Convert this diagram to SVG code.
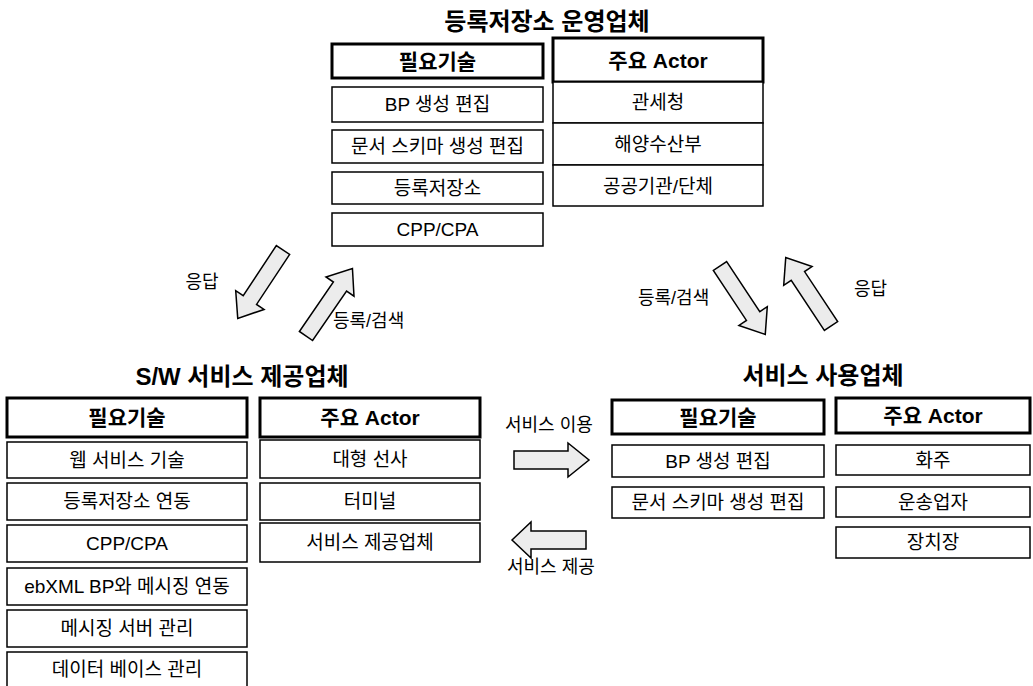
<svg xmlns="http://www.w3.org/2000/svg" width="1033" height="686" viewBox="0 0 1033 686">
<style>
.bg{fill:#fff}
.box{fill:#fff;stroke:#000;stroke-width:1.5}
.hdr{fill:#fff;stroke:#000;stroke-width:3}
.t{font-family:"Liberation Sans","Noto Sans CJK KR",sans-serif;font-size:19px;fill:#000;text-anchor:middle;dominant-baseline:central}
.h{font-family:"Liberation Sans","Noto Sans CJK KR",sans-serif;font-size:21px;font-weight:700;fill:#000;text-anchor:middle;dominant-baseline:central}
.ttl{font-family:"Liberation Sans","Noto Sans CJK KR",sans-serif;font-size:24px;font-weight:700;fill:#000;text-anchor:middle;dominant-baseline:central}
.lbl{font-family:"Liberation Sans","Noto Sans CJK KR",sans-serif;font-size:18px;fill:#000;dominant-baseline:central}
.arr{fill:#ececec;stroke:#000;stroke-width:1.5;stroke-linejoin:miter}
</style>
<defs>
<polygon id="blk" points="0,-8 60,-8 60,-17 82,0 60,17 60,8 0,8"/>
</defs>
<rect class="bg" x="0" y="0" width="1033" height="686"/>

<g id="registry-operator">
<text class="ttl" x="547" y="21">등록저장소 운영업체</text>
<g id="ro-tech-header"><rect class="hdr" x="332" y="44" width="211" height="34"/><text class="h" x="437.5" y="61">필요기술</text></g>
<g id="ro-tech-1"><rect class="box" x="332" y="87" width="211" height="35"/><text class="t" x="437.5" y="104.5">BP 생성 편집</text></g>
<g id="ro-tech-2"><rect class="box" x="332" y="130" width="211" height="33"/><text class="t" x="437.5" y="146.5">문서 스키마 생성 편집</text></g>
<g id="ro-tech-3"><rect class="box" x="332" y="172" width="211" height="32"/><text class="t" x="437.5" y="188">등록저장소</text></g>
<g id="ro-tech-4"><rect class="box" x="332" y="213" width="211" height="33"/><text class="t" x="437.5" y="229.5">CPP/CPA</text></g>
<g id="ro-actor-header"><rect class="hdr" x="553" y="38" width="210" height="44"/><text class="h" x="658" y="60">주요 Actor</text></g>
<g id="ro-actor-1"><rect class="box" x="553" y="82" width="210" height="41"/><text class="t" x="658" y="102.5">관세청</text></g>
<g id="ro-actor-2"><rect class="box" x="553" y="123" width="210" height="42"/><line x1="553" y1="167.5" x2="763" y2="167.5" stroke="#000" stroke-width="1"/><text class="t" x="658" y="144">해양수산부</text></g>
<g id="ro-actor-3"><rect class="box" x="553" y="165" width="210" height="41"/><text class="t" x="658" y="186">공공기관/단체</text></g>
</g>

<g id="sw-provider">
<text class="ttl" x="242" y="376">S/W 서비스 제공업체</text>
<g id="sp-tech-header"><rect class="hdr" x="7" y="398" width="240" height="39"/><text class="h" x="127" y="417.5">필요기술</text></g>
<g id="sp-tech-1"><rect class="box" x="7" y="442" width="240" height="36"/><text class="t" x="127" y="460">웹 서비스 기술</text></g>
<g id="sp-tech-2"><rect class="box" x="7" y="483" width="240" height="37"/><text class="t" x="127" y="501.5">등록저장소 연동</text></g>
<g id="sp-tech-3"><rect class="box" x="7" y="525" width="240" height="37"/><text class="t" x="127" y="543.5">CPP/CPA</text></g>
<g id="sp-tech-4"><rect class="box" x="7" y="568" width="240" height="37"/><text class="t" x="127" y="586.5">ebXML BP와 메시징 연동</text></g>
<g id="sp-tech-5"><rect class="box" x="7" y="610" width="240" height="37"/><text class="t" x="127" y="628.5">메시징 서버 관리</text></g>
<g id="sp-tech-6"><rect class="box" x="7" y="652" width="240" height="40"/><text class="t" x="127" y="669">데이터 베이스 관리</text></g>
<g id="sp-actor-header"><rect class="hdr" x="260" y="398" width="220" height="39"/><text class="h" x="370" y="417.5">주요 Actor</text></g>
<g id="sp-actor-1"><rect class="box" x="260" y="440" width="220" height="38"/><text class="t" x="370" y="459">대형 선사</text></g>
<g id="sp-actor-2"><rect class="box" x="260" y="483" width="220" height="37"/><text class="t" x="370" y="501.5">터미널</text></g>
<g id="sp-actor-3"><rect class="box" x="260" y="523" width="220" height="39"/><text class="t" x="370" y="542.5">서비스 제공업체</text></g>
</g>

<g id="service-user">
<text class="ttl" x="823" y="375">서비스 사용업체</text>
<g id="su-tech-header"><rect class="hdr" x="612" y="400" width="212" height="34"/><text class="h" x="718" y="417">필요기술</text></g>
<g id="su-tech-1"><rect class="box" x="612" y="445" width="212" height="32"/><text class="t" x="718" y="461">BP 생성 편집</text></g>
<g id="su-tech-2"><rect class="box" x="612" y="487" width="212" height="31"/><text class="t" x="718" y="502.5">문서 스키마 생성 편집</text></g>
<g id="su-actor-header"><rect class="hdr" x="836" y="398" width="194" height="35"/><text class="h" x="933" y="415.5">주요 Actor</text></g>
<g id="su-actor-1"><rect class="box" x="836" y="445" width="194" height="30"/><text class="t" x="933" y="460">화주</text></g>
<g id="su-actor-2"><rect class="box" x="836" y="487" width="194" height="30"/><text class="t" x="933" y="502">운송업자</text></g>
<g id="su-actor-3"><rect class="box" x="836" y="527" width="194" height="31"/><text class="t" x="933" y="542.5">장치장</text></g>
</g>

<g id="connectors">
<use href="#blk" class="arr" transform="translate(283,250) rotate(123.5)"/>
<use href="#blk" class="arr" transform="translate(306,336) rotate(-55.5)"/>
<use href="#blk" class="arr" transform="translate(720,266) rotate(56.5)"/>
<use href="#blk" class="arr" transform="translate(831,326) rotate(-123.5)"/>
<polygon class="arr" points="514,451 568,451 568,443 589,460 568,477 568,469 514,469"/>
<polygon class="arr" points="512,540 531,522 531,531 586,531 586,549 531,549 531,558"/>
<text class="lbl" x="202" y="282" text-anchor="middle">응답</text>
<text class="lbl" x="333" y="321">등록/검색</text>
<text class="lbl" x="638" y="298">등록/검색</text>
<text class="lbl" x="854" y="289">응답</text>
<text class="lbl" x="505" y="425">서비스 이용</text>
<text class="lbl" x="507" y="567">서비스 제공</text>
</g>
</svg>
